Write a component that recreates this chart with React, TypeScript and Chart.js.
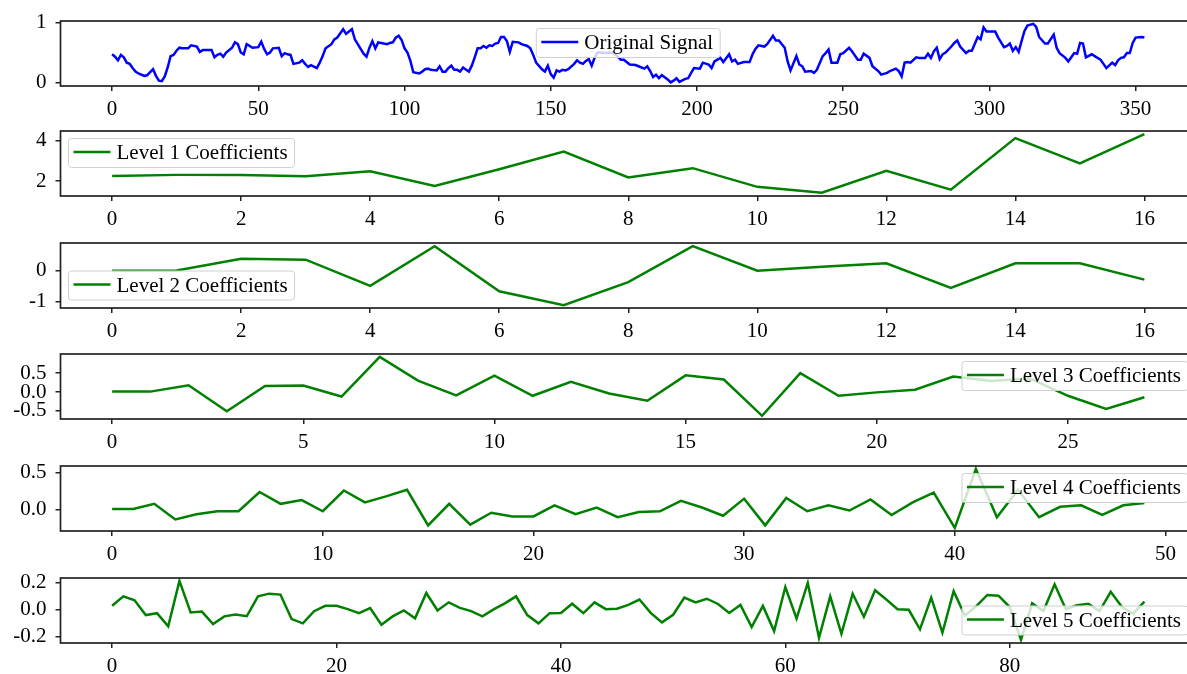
import React, { useEffect, useRef } from "react";
import { Chart, registerables } from "chart.js";

Chart.register(...registerables);

// ---------- data ----------
const signalSamples: [number, number][] = [
  [0,.47],[1,.43],[2,.37],[3,.46],[4,.42],[5,.33],[6,.31],[7,.24],[8,.18],[9,.15],[11,.11],[12,.12],[13,.17],[14,.22],[15,.11],[16,.03],[17,.02],[18,.10],[19,.25],[20,.44],[21,.46],[22,.53],[23,.58],[24,.57],[26,.57],[27,.62],[29,.60],[30,.51],[31,.54],[33,.54],[34,.54],[35,.42],[36,.46],[37,.48],[38,.43],[39,.50],[41,.58],[42,.67],[43,.64],[44,.50],[45,.47],[46,.64],[47,.61],[48,.58],[50,.59],[51,.68],[52,.56],[53,.47],[54,.50],[55,.57],[57,.58],[58,.44],[59,.49],[60,.47],[61,.46],[62,.31],[64,.33],[65,.37],[66,.31],[67,.26],[68,.29],[70,.24],[71,.33],[72,.44],[73,.57],[75,.64],[76,.72],[77,.75],[79,.89],[80,.81],[81,.85],[82,.89],[83,.72],[84,.64],[86,.48],[87,.43],[88,.58],[89,.69],[90,.57],[91,.67],[92,.66],[94,.64],[95,.66],[96,.67],[97,.75],[98,.78],[99,.71],[100,.57],[101,.50],[102,.36],[103,.17],[105,.15],[106,.18],[107,.22],[108,.23],[109,.21],[111,.20],[112,.27],[113,.18],[114,.18],[115,.24],[116,.28],[117,.21],[118,.21],[119,.18],[120,.25],[122,.18],[123,.28],[124,.42],[125,.57],[126,.57],[127,.61],[128,.58],[129,.62],[130,.61],[131,.65],[132,.66],[133,.76],[134,.76],[135,.69],[136,.51],[137,.68],[139,.67],[140,.64],[142,.61],[143,.57],[144,.46],[145,.33],[147,.22],[148,.18],[149,.28],[150,.14],[151,.08],[152,.20],[153,.18],[154,.21],[155,.20],[156,.22],[158,.31],[159,.37],[160,.33],[161,.31],[162,.36],[163,.39],[164,.28],[165,.41],[166,.50],[167,.50],[169,.49],[171,.50],[172,.47],[174,.38],[175,.38],[177,.30],[179,.29],[180,.27],[182,.23],[183,.27],[184,.19],[185,.09],[186,.13],[187,.07],[188,.12],[190,.05],[191,.0],[192,.03],[193,.07],[194,.01],[196,.06],[197,.07],[198,.16],[199,.24],[201,.23],[202,.33],[204,.30],[205,.24],[206,.35],[207,.38],[208,.41],[209,.34],[211,.47],[212,.35],[213,.38],[214,.31],[216,.34],[218,.34],[219,.47],[220,.56],[221,.62],[223,.60],[224,.64],[226,.78],[227,.70],[228,.70],[230,.58],[231,.35],[232,.20],[234,.44],[235,.30],[236,.27],[237,.18],[239,.19],[240,.16],[241,.21],[243,.44],[244,.49],[245,.55],[246,.33],[248,.33],[249,.47],[250,.49],[252,.58],[253,.52],[255,.38],[256,.38],[257,.48],[259,.41],[260,.27],[262,.19],[263,.13],[265,.16],[266,.19],[268,.23],[269,.19],[270,.10],[271,.33],[272,.34],[273,.33],[275,.42],[276,.41],[278,.41],[279,.48],[280,.41],[281,.52],[282,.58],[283,.39],[284,.47],[285,.50],[287,.60],[288,.66],[289,.70],[290,.60],[292,.49],[293,.53],[294,.53],[296,.76],[297,.72],[298,.92],[299,.85],[301,.85],[302,.85],[303,.75],[305,.59],[306,.61],[307,.65],[308,.53],[309,.59],[310,.51],[311,.69],[312,.86],[313,.95],[315,.98],[316,.93],[317,.76],[319,.65],[320,.65],[322,.80],[323,.58],[324,.49],[326,.41],[327,.35],[328,.42],[329,.49],[330,.48],[331,.66],[332,.65],[333,.42],[335,.47],[336,.44],[338,.38],[339,.31],[340,.24],[342,.33],[343,.29],[344,.37],[345,.41],[346,.42],[347,.49],[348,.49],[349,.66],[350,.75],[352,.76],[353,.75],
];

const level1Values = [2.26, 2.31, 2.31, 2.24, 2.49, 1.76, 2.59, 3.46, 2.18, 2.64, 1.72, 1.43, 2.51, 1.58, 4.12, 2.88, 4.32];
const level2Values = [0.0, 0.01, 0.39, 0.36, -0.49, 0.8, -0.67, -1.12, -0.37, 0.8, 0.0, 0.13, 0.24, -0.56, 0.24, 0.24, -0.29];
const level3Values = [0.01, 0.01, 0.18, -0.51, 0.16, 0.17, -0.12, 0.93, 0.3, -0.09, 0.43, -0.1, 0.27, -0.04, -0.23, 0.44, 0.33, -0.63, 0.5, -0.1, -0.01, 0.06, 0.41, 0.29, 0.36, -0.1, -0.45, -0.14];
const level4Values = [0.01, 0.01, 0.08, -0.13, -0.06, -0.02, -0.02, 0.24, 0.08, 0.13, -0.02, 0.26, 0.1, 0.18, 0.27, -0.21, 0.08, -0.2, -0.04, -0.09, -0.09, 0.06, -0.06, 0.03, -0.1, -0.03, -0.02, 0.12, 0.03, -0.08, 0.15, -0.21, 0.16, -0.02, 0.06, -0.01, 0.14, -0.07, 0.1, 0.23, -0.245, 0.55, -0.1, 0.27, -0.1, 0.04, 0.06, -0.07, 0.06, 0.09];
const level5Values = [
  0.029, 0.1, 0.07, -0.04, -0.026, -0.125, 0.215, -0.02, -0.014, -0.107, -0.05, -0.036, -0.049, 0.1, 0.12, 0.113, -0.07, -0.102, -0.011, 0.029,
  0.029, 0.004, -0.026, 0.012, -0.112, -0.05, -0.006, -0.064, 0.125, -0.006, 0.055, 0.014, -0.011, -0.05, 0.002, 0.047, 0.1, -0.04, -0.102, -0.026,
  -0.024, 0.045, -0.026, 0.055, 0.004, 0.007, 0.036, 0.076, -0.024, -0.095, -0.038, 0.09, 0.054, 0.082, 0.043, -0.024, 0.036, -0.13, 0.028, -0.16,
  0.17, -0.067, 0.2, -0.21, 0.1, -0.18, 0.12, -0.053, 0.145, 0.076, 0.004, -0.001, -0.147, 0.09, -0.172, 0.139, -0.044, 0.025, 0.11, 0.105,
  0.02, -0.225, 0.048, -0.01, 0.19, 0.004, 0.034, 0.045, -0.01, 0.134, 0.02, -0.03, 0.06,
];

const signalXTicks = [0, 50, 100, 150, 200, 250, 300, 350];
const level12XTicks = [0, 2, 4, 6, 8, 10, 12, 14, 16];
const level3XTicks = [0, 5, 10, 15, 20, 25];
const level4XTicks = [0, 10, 20, 30, 40, 50];
const level5XTicks = [0, 20, 40, 60, 80];

const signalYTicks = [0, 1];
const signalYLabels = ["0", "1"];
const level1YTicks = [2, 4];
const level1YLabels = ["2", "4"];
const level2YTicks = [-1, 0];
const level2YLabels = ["-1", "0"];
const level3YTicks = [-0.5, 0, 0.5];
const level3YLabels = ["-0.5", "0.0", "0.5"];
const level4YTicks = [0, 0.5];
const level4YLabels = ["0.0", "0.5"];
const level5YTicks = [-0.2, 0, 0.2];
const level5YLabels = ["-0.2", "0.0", "0.2"];

const seriesLabels = ["Original Signal", "Level 1 Coefficients", "Level 2 Coefficients", "Level 3 Coefficients", "Level 4 Coefficients", "Level 5 Coefficients"];

// ---------- layout / style ----------
const FONT = "'Liberation Serif', 'Times New Roman', Times, serif";
const FONT_SIZE = 21;
const PAD_T = 26;
const AREA_H = 65;
const XAXIS_H = 38;
const LEFT = 60.5;
const CANVAS_W = 1196;
const PANEL_TOPS = [20.5, 131, 243, 354, 466, 577.5];

type Loc = "uc" | "ul" | "ll" | "ur" | "lr";
interface PanelSpec {
  label: string;
  color: string;
  points: { x: number; y: number }[];
  xTicks: number[];
  yTicks: number[];
  yLabels: string[];
  xRange: [number, number];
  yRange: [number, number];
  loc: Loc;
}

const idxPoints = (vals: number[]) => vals.map((y, x) => ({ x, y }));
const marginRange = (last: number): [number, number] => [-0.05 * last, 1.05 * last];

const signalPoints = signalSamples.map(([x, y]) => ({ x, y }));
const lastIndex = (pts: { x: number }[]) => pts[pts.length - 1].x;

const PANELS: PanelSpec[] = [
  { label: seriesLabels[0], color: "#0000ff", points: signalPoints, xTicks: signalXTicks, yTicks: signalYTicks, yLabels: signalYLabels, xRange: marginRange(lastIndex(signalPoints)), yRange: [-0.06, 1.027], loc: "uc" },
  { label: seriesLabels[1], color: "#008000", points: idxPoints(level1Values), xTicks: level12XTicks, yTicks: level1YTicks, yLabels: level1YLabels, xRange: marginRange(level1Values.length - 1), yRange: [1.27, 4.47], loc: "ul" },
  { label: seriesLabels[2], color: "#008000", points: idxPoints(level2Values), xTicks: level12XTicks, yTicks: level2YTicks, yLabels: level2YLabels, xRange: marginRange(level2Values.length - 1), yRange: [-1.213, 0.903], loc: "ll" },
  { label: seriesLabels[3], color: "#008000", points: idxPoints(level3Values), xTicks: level3XTicks, yTicks: level3YTicks, yLabels: level3YLabels, xRange: marginRange(level3Values.length - 1), yRange: [-0.714, 1.005], loc: "ur" },
  { label: seriesLabels[4], color: "#008000", points: idxPoints(level4Values), xTicks: level4XTicks, yTicks: level4YTicks, yLabels: level4YLabels, xRange: marginRange(level4Values.length - 1), yRange: [-0.286, 0.59], loc: "ur" },
  { label: seriesLabels[5], color: "#008000", points: idxPoints(level5Values), xTicks: level5XTicks, yTicks: level5YTicks, yLabels: level5YLabels, xRange: marginRange(level5Values.length - 1), yRange: [-0.249, 0.237], loc: "lr" },
];

function Panel({ spec, top }: { spec: PanelSpec; top: number }) {
  const ref = useRef<HTMLCanvasElement | null>(null);
  useEffect(() => {
    const canvas = ref.current;
    if (!canvas) return;
    const framePlugin = {
      id: "mplFrame",
      afterDraw(chart: any) {
        const { ctx, chartArea: a } = chart;
        ctx.save();
        // spines
        ctx.strokeStyle = "#222";
        ctx.lineWidth = 1.7;
        ctx.strokeRect(a.left, a.top, a.right - a.left, a.bottom - a.top);
        // legend
        ctx.font = `${FONT_SIZE}px ${FONT}`;
        const tw = ctx.measureText(spec.label).width;
        const padL = 5, lineLen = 37, gap = 6, padR = 7;
        const w = padL + lineLen + gap + tw + padR;
        const h = 29;
        const off = 8;
        let x = a.left + off;
        let y = a.top + off - 0.5;
        if (spec.loc === "uc") x = (a.left + a.right) / 2 - w / 2;
        if (spec.loc === "ur" || spec.loc === "lr") x = a.right - off - w;
        if (spec.loc === "ll" || spec.loc === "lr") y = a.bottom - off - h;
        const r = 3;
        ctx.beginPath();
        ctx.moveTo(x + r, y);
        ctx.lineTo(x + w - r, y);
        ctx.arcTo(x + w, y, x + w, y + r, r);
        ctx.lineTo(x + w, y + h - r);
        ctx.arcTo(x + w, y + h, x + w - r, y + h, r);
        ctx.lineTo(x + r, y + h);
        ctx.arcTo(x, y + h, x, y + h - r, r);
        ctx.lineTo(x, y + r);
        ctx.arcTo(x, y, x + r, y, r);
        ctx.closePath();
        ctx.fillStyle = "rgba(255,255,255,0.8)";
        ctx.fill();
        ctx.strokeStyle = "#d0d0d0";
        ctx.lineWidth = 1;
        ctx.stroke();
        const cy = y + h / 2 - 1;
        ctx.beginPath();
        ctx.moveTo(x + padL, cy);
        ctx.lineTo(x + padL + lineLen, cy);
        ctx.strokeStyle = spec.color;
        ctx.lineWidth = 2.5;
        ctx.stroke();
        ctx.fillStyle = "#000";
        ctx.textBaseline = "middle";
        ctx.textAlign = "left";
        ctx.fillText(spec.label, x + padL + lineLen + gap, y + h / 2 + 0.5);
        ctx.restore();
      },
    };
    const tickFont = { family: FONT, size: FONT_SIZE };
    const chart = new Chart(canvas, {
      type: "line",
      data: {
        datasets: [
          {
            label: spec.label,
            data: spec.points,
            borderColor: spec.color,
            backgroundColor: spec.color,
            borderWidth: 2.5,
            pointRadius: 0,
            fill: false,
            tension: 0,
          },
        ],
      },
      options: {
        responsive: false,
        animation: false,
        devicePixelRatio: 1,
        layout: { padding: { top: PAD_T, left: 0, right: 0, bottom: 0 } },
        plugins: { legend: { display: false }, tooltip: { enabled: false } },
        scales: {
          x: {
            type: "linear",
            min: spec.xRange[0],
            max: spec.xRange[1],
            afterBuildTicks: (s: any) => {
              s.ticks = spec.xTicks.map((v) => ({ value: v }));
            },
            afterFit: (s: any) => {
              s.height = XAXIS_H;
            },
            ticks: {
              autoSkip: false,
              maxRotation: 0,
              padding: 6,
              color: "#000",
              font: tickFont,
              callback: (v: any) => String(v),
            },
            grid: { display: true, drawOnChartArea: false, drawTicks: true, tickLength: 5, color: "#222", lineWidth: 1.5 },
            border: { display: false },
          },
          y: {
            type: "linear",
            min: spec.yRange[0],
            max: spec.yRange[1],
            afterBuildTicks: (s: any) => {
              s.ticks = spec.yTicks.map((v) => ({ value: v }));
            },
            afterFit: (s: any) => {
              s.width = LEFT;
            },
            ticks: {
              autoSkip: false,
              padding: 9,
              color: "#000",
              font: tickFont,
              callback: (v: any) => {
                const i = spec.yTicks.findIndex((t) => Math.abs(t - Number(v)) < 1e-9);
                return i >= 0 ? spec.yLabels[i] : "";
              },
            },
            grid: { display: true, drawOnChartArea: false, drawTicks: true, tickLength: 5, color: "#222", lineWidth: 1.5 },
            border: { display: false },
          },
        },
      } as any,
      plugins: [framePlugin as any],
    });
    return () => chart.destroy();
  }, [spec]);
  const h = PAD_T + AREA_H + XAXIS_H;
  return (
    <canvas
      ref={ref}
      width={CANVAS_W}
      height={h}
      style={{ position: "absolute", left: 0, top: top - PAD_T, width: CANVAS_W, height: h }}
    />
  );
}

export default function App() {
  return (
    <div
      style={{
        position: "absolute",
        left: 0,
        top: 0,
        width: 1187,
        height: 674,
        overflow: "hidden",
        background: "#fff",
      }}
    >
      {PANELS.map((p, i) => (
        <Panel key={i} spec={p} top={PANEL_TOPS[i]} />
      ))}
    </div>
  );
}
